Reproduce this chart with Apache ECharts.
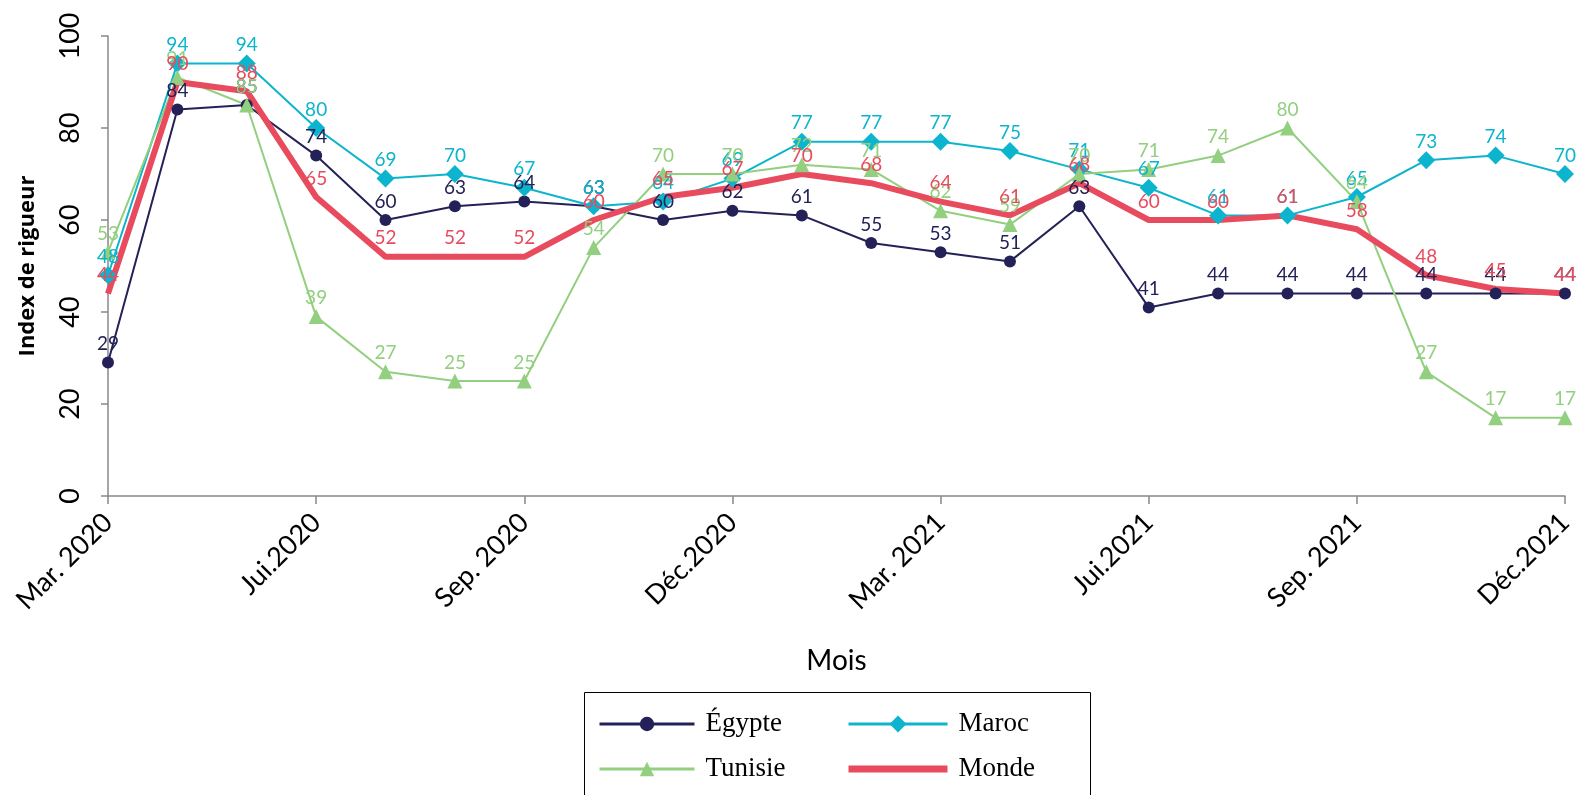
<!DOCTYPE html>
<html>
<head>
<meta charset="utf-8">
<script src="https://cdn.jsdelivr.net/npm/echarts@6/dist/echarts.min.js"></script>
<style>
  html, body { margin: 0; padding: 0; background: #fff; }
  #chart { width: 1579px; height: 795px; }
</style>
</head>
<body>
<div id="chart"></div>
<script>
// Months, March 2020 to December 2021
const months = [
  'Mar. 2020', 'Avr. 2020', 'Mai 2020', 'Jui.2020', 'Juil. 2020', 'Aoû. 2020',
  'Sep. 2020', 'Oct. 2020', 'Nov. 2020', 'Déc.2020', 'Jan. 2021', 'Fév. 2021',
  'Mar. 2021', 'Avr. 2021', 'Mai 2021', 'Jui.2021', 'Juil. 2021', 'Aoû. 2021',
  'Sep. 2021', 'Oct. 2021', 'Nov. 2021', 'Déc.2021'
];

// Stringency index by country
const egypte  = [29, 84, 85, 74, 60, 63, 64, 63, 60, 62, 61, 55, 53, 51, 63, 41, 44, 44, 44, 44, 44, 44];
const maroc   = [48, 94, 94, 80, 69, 70, 67, 63, 64, 69, 77, 77, 77, 75, 71, 67, 61, 61, 65, 73, 74, 70];
const tunisie = [53, 91, 85, 39, 27, 25, 25, 54, 70, 70, 72, 71, 62, 59, 70, 71, 74, 80, 64, 27, 17, 17];
const monde   = [44, 90, 88, 65, 52, 52, 52, 60, 65, 67, 70, 68, 64, 61, 68, 60, 60, 61, 58, 48, 45, 44];

const yTicks = [0, 20, 40, 60, 80, 100];

const labelFont = 'Lato, "Open Sans", sans-serif';
const legendFont = '"Liberation Serif", serif';

// Value labels sit about 9px above each point
function lineSeries(name, data, color, symbol, symbolSize, width) {
  return {
    name: name,
    type: 'line',
    data: data,
    symbol: symbol,
    symbolSize: symbolSize,
    showSymbol: true,
    lineStyle: { color: color, width: width },
    itemStyle: { color: color },
    label: {
      show: true,
      position: 'top',
      distance: Math.max(0, 9 - symbolSize / 2),
      color: color,
      fontFamily: labelFont,
      fontSize: 19
    },
    emphasis: { disabled: true },
    animation: false
  };
}

const legendText = {
  fontFamily: legendFont, fontSize: 27, lineHeight: 30, color: '#000', padding: [0, 0, 0, 6]
};

const chart = echarts.init(document.getElementById('chart'));
chart.setOption({
  backgroundColor: '#ffffff',
  grid: { left: 108, right: 14, top: 36, bottom: 299 },
  xAxis: {
    type: 'category',
    data: months,
    boundaryGap: false,
    name: 'Mois',
    nameLocation: 'middle',
    nameGap: 151,
    nameTextStyle: { fontFamily: labelFont, fontSize: 28, color: '#000' },
    axisLine: { lineStyle: { color: '#888', width: 1.5 } },
    axisTick: { show: true, interval: 2, length: 8, lineStyle: { color: '#888', width: 1.5 } },
    axisLabel: {
      interval: 2,
      rotate: 45,
      margin: 22,
      fontFamily: labelFont,
      fontSize: 27,
      color: '#000'
    },
    splitLine: { show: false }
  },
  yAxis: {
    type: 'value',
    min: yTicks[0],
    max: yTicks[yTicks.length - 1],
    interval: 20,
    name: 'Index de rigueur',
    nameLocation: 'middle',
    nameGap: 69,
    nameTextStyle: { fontFamily: '"Open Sans", sans-serif', fontSize: 22, fontWeight: 'bold', color: '#000' },
    axisLine: { show: true, lineStyle: { color: '#888', width: 1.5 } },
    axisTick: { show: true, length: 7, lineStyle: { color: '#888', width: 1.5 } },
    axisLabel: {
      rotate: 90,
      margin: 24,
      fontFamily: labelFont,
      fontSize: 27,
      color: '#000'
    },
    splitLine: { show: false }
  },
  legend: [
    {
      data: [
        { name: 'Égypte', lineStyle: { width: 3 } },
        { name: 'Tunisie', lineStyle: { width: 3 } }
      ],
      orient: 'vertical',
      left: 593,
      top: 704,
      itemWidth: 95,
      itemHeight: 18,
      itemGap: 15,
      textStyle: legendText
    },
    {
      data: [
        { name: 'Maroc', lineStyle: { width: 3 } },
        { name: 'Monde', icon: 'path://M0,0L100,0L100,7L0,7Z', lineStyle: { width: 7 } }
      ],
      orient: 'vertical',
      left: 842,
      top: 704,
      itemWidth: 99,
      itemHeight: 21,
      itemGap: 15,
      textStyle: legendText
    }
  ],
  graphic: [
    {
      type: 'rect',
      left: 582,
      top: 690,
      shape: { width: 506, height: 120 },
      style: { fill: 'none', stroke: '#000', lineWidth: 1 },
      silent: true
    }
  ],
  series: [
    lineSeries('Égypte', egypte, '#232157', 'circle', 12, 2),
    lineSeries('Maroc', maroc, '#0cb5cd', 'diamond', 18, 2),
    lineSeries('Tunisie', tunisie, '#92cf7f', 'triangle', 15, 2),
    lineSeries('Monde', monde, '#e84b5e', 'circle', 0, 6)
  ]
});
</script>
</body>
</html>
